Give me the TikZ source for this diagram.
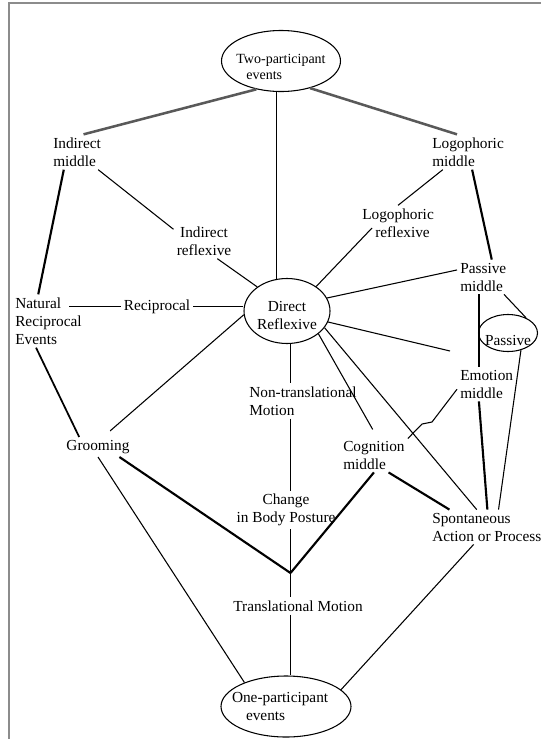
\documentclass[tikz,border=0pt]{standalone}
\usepackage{fontspec}
\setmainfont{Liberation Serif}
\usetikzlibrary{shapes.geometric}

\begin{document}
\begin{tikzpicture}[x=0.75pt, y=-0.75pt,
      every node/.append style={align=center, font=\fontsize{11.5pt}{13.5pt}\selectfont},
      lbl/.style={inner sep=2.25pt},
      oval/.style={draw, ellipse, line width=0.8pt, inner xsep=-12pt, inner ysep=0pt},
      link/.style={line width=0.8pt},
      strong/.style={line width=1.6pt},
      faint/.style={line width=1.9pt, draw=black!65},
      frame/.style={line width=1.2pt, draw=black!45}]

  \useasboundingbox (0,0) rectangle (541,739);
  \draw[frame] (541,3) -| (9,739);

  \node [oval, minimum width=89.25pt, minimum height=45.75pt, align=left,
         font=\fontsize{10.5pt}{12pt}\selectfont] (two) at (281,61)
        {\rule{0pt}{16.5pt}Two-participant\\\hspace*{7.5pt}events};
  \node [oval, minimum width=64.5pt, minimum height=48.75pt] (dr) at (287,311)
        {\rule{0pt}{14pt}Direct\\Reflexive};
  \node [oval, minimum width=44.25pt, minimum height=27.75pt] (pas) at (508,333)
        {\raisebox{-5.5pt}[7pt][0pt]{Passive}};
  \node [oval, minimum width=97.5pt, minimum height=45.75pt, align=left] (one) at (286,706.5)
        {\makebox[81pt][l]{One-participant}\\\hspace*{10.5pt}events};

  \node [lbl, anchor=west, align=left] (im)  at (50,152)  {Indirect\\middle};
  \node [lbl, anchor=west, align=left] (lm)  at (429,152) {Logophoric\\middle};
  \node [lbl] (ir) at (204,241) {Indirect\\reflexive};
  \node [lbl, anchor=west, align=left] (lr)  at (359,223) {Logophoric\\\hspace*{9.75pt}reflexive};
  \node [lbl, anchor=west, align=left] (nre) at (12,321)  {Natural\\Reciprocal\\Events};
  \node [lbl] (rec) at (157,306.5) {Reciprocal};
  \node [lbl, anchor=west, align=left] (pm)  at (457,277) {Passive\\middle};
  \node [lbl, anchor=west, align=left] (em)  at (457,384) {Emotion\\middle};
  \node [lbl, anchor=west, align=left] (ntm) at (246,401) {Non-translational\\Motion};
  \node [lbl] (gr) at (98,447) {Grooming};
  \node [lbl, anchor=west, align=left] (cm)  at (340,455) {Cognition\\middle};
  \node [lbl] (cbp) at (286,510) {Change\\in Body Posture};
  \node [lbl, anchor=west, align=left] (sap) at (429,527) {Spontaneous\\Action or Process};
  \node [lbl] (tm) at (298,606) {Translational Motion};

  \coordinate (V) at (290.5,573);
  \coordinate (drend) at (450,351);
  \coordinate (k1) at (432,422);
  \coordinate (k2) at (422,424);

  \path[faint] (two.229) edge (im.70)
               (two.317) edge (lm.122);
  \path[link] (dr.108 |- two.south) edge (dr.108)
              (im.320) edge (ir.159)
              (ir.307) edge (dr.141)
              (lm.215) edge (lr.north)
              ([xshift=9.75pt, yshift=-3.75pt]lr.west) edge (dr.40)
              (rec.west) edge ([xshift=-12pt]rec.west -| nre.east)
              (rec.east) edge (rec.east -| dr.west)
              (dr.18) edge (pm.165)
              (dr.345) edge (drend)
              (dr.185) edge[shorten >=7pt] (gr.63)
              (dr.south -| V) edge (ntm.north -| V)
              (ntm.south -| V) edge (cbp.north -| V)
              (cbp.south -| V) edge (V)
              (V) edge (tm.north -| V)
              (tm.south -| V) edge (V |- one.north)
              (dr.324) edge[shorten >=7pt] (cm.79)
              (dr.336) edge (sap.120)
              (pm.320) edge (pas.40)
              (pas.307) edge (sap.56)
              (gr.south) edge (one.150)
              (sap.233) edge (one.17);
  \draw[link] (em.190) -- (k1) -- (k2) -- (cm.26);
  \path[strong] (im.233) edge (nre.111)
                (lm.283) edge (pm.64)
                ([xshift=-3pt]pm.south) edge ([xshift=-3pt]pm.south |- em.north)
                (em.246) edge (sap.88)
                (gr.335) edge (V)
                (cm.south) edge (V)
                (cm.310) edge (sap.155);
  \path[strong, line width=1.3pt] (nre.245) edge (gr.152);
\end{tikzpicture}
\end{document}
